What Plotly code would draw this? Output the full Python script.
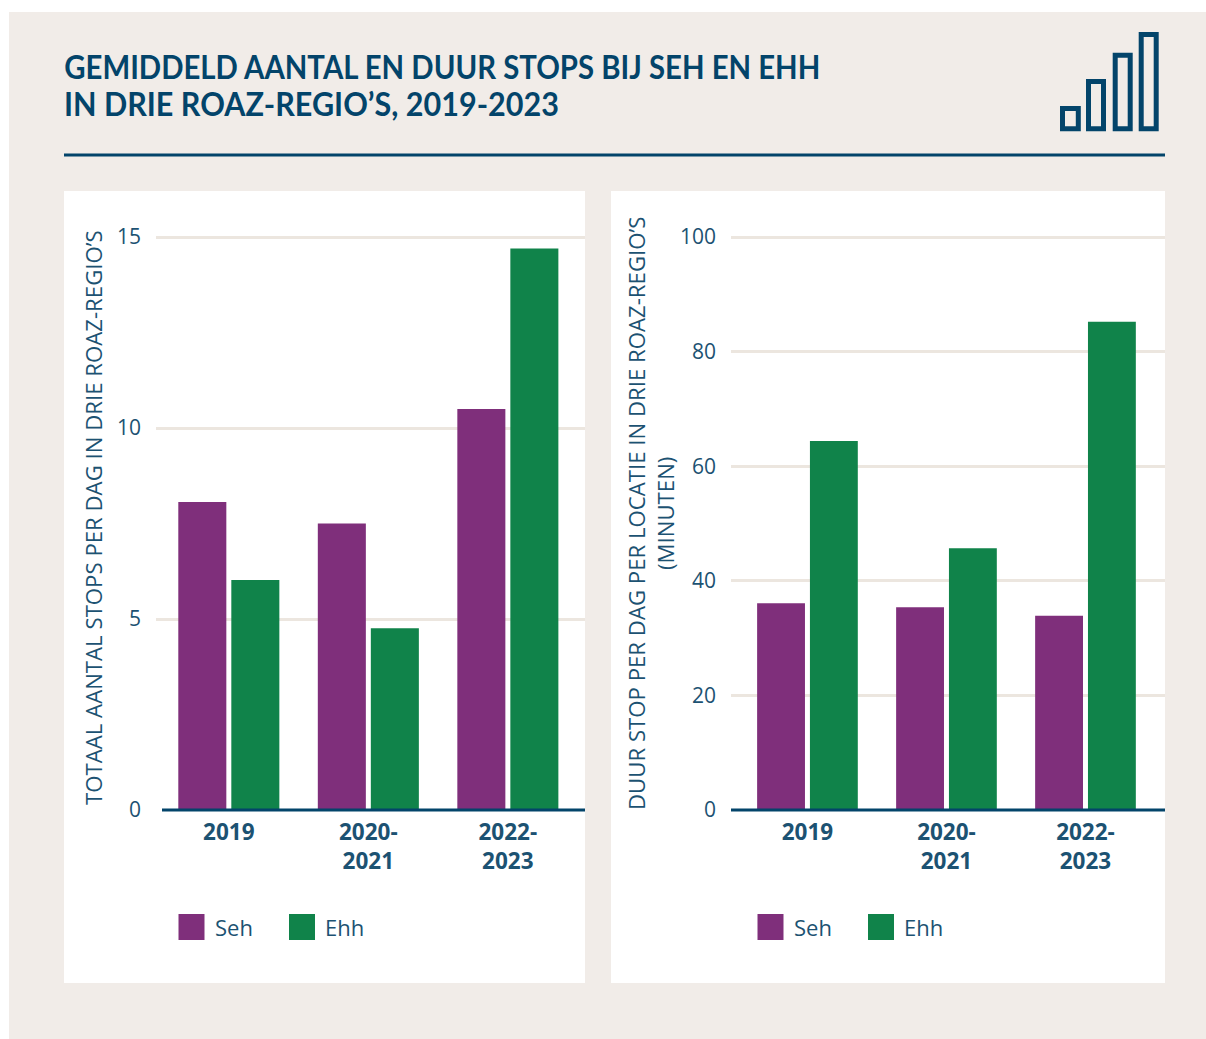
import plotly.graph_objects as go

W, H = 1206, 1039

periods = ["2019", "2020-<br>2021", "2022-<br>2023"]
stops_seh = [8.06, 7.5, 10.5]
stops_ehh = [6.02, 4.76, 14.7]
duur_seh = [36.1, 35.4, 33.9]
duur_ehh = [64.4, 45.7, 85.2]
stops_ticks = [0, 5, 10, 15]
duur_ticks = [0, 20, 40, 60, 80, 100]
title_lines = ["GEMIDDELD AANTAL EN DUUR STOPS BIJ SEH EN EHH", "IN DRIE ROAZ-REGIO’S, 2019-2023"]
title_widths = [756, 495]
ytitle_left = "TOTAAL AANTAL STOPS PER DAG IN DRIE ROAZ-REGIO’S"
ytitle_right = "DUUR STOP PER DAG PER LOCATIE IN DRIE ROAZ-REGIO’S<br>(MINUTEN)"

PURPLE = "#7f2f7b"
GREEN = "#10834a"
NAVY = "#03446a"
TEXT = "#1c5272"
BG = "#f1ece8"
GRID = "#ece6df"
BODY = "Open Sans"
HEAD = "Lato"


def px(x):
    return x / W


def py(y):
    return 1 - y / H


fig = go.Figure()
for xa, ya, seh, ehh in [("x", "y", stops_seh, stops_ehh), ("x2", "y2", duur_seh, duur_ehh)]:
    fig.add_bar(x=periods, y=seh, name="Seh", marker=dict(color=PURPLE, line_width=0), xaxis=xa, yaxis=ya, showlegend=False)
    fig.add_bar(x=periods, y=ehh, name="Ehh", marker=dict(color=GREEN, line_width=0), xaxis=xa, yaxis=ya, showlegend=False)

shapes = []


def rect(x0, y0, x1, y1, fill, line=None, lw=0, layer="below"):
    shapes.append(dict(type="rect", xref="paper", yref="paper", x0=px(x0), x1=px(x1), y0=py(y0), y1=py(y1),
                       fillcolor=fill, line=dict(color=line or fill, width=lw), layer=layer))


rect(9, 12, 1206, 1039, BG)
rect(64, 191, 585, 983, "#ffffff")
rect(611, 191, 1165, 983, "#ffffff")
rect(64, 153.5, 1165, 156.5, NAVY)

# icon
for x0, y0, x1 in [(1062.5, 108.5, 1078.3), (1088.5, 81.5, 1103.5), (1115.2, 55.2, 1130.2), (1141.2, 34.5, 1156.2)]:
    rect(x0, y0, x1, 128.8, "rgba(0,0,0,0)", NAVY, 5)

# baselines
for x0, x1 in [(162, 585), (731, 1165)]:
    rect(x0, 808.5, x1, 811.5, NAVY, layer="above")

# legends
annotations = []
for off in (0, 579):
    for x0, col, label, tx in [(178.5, PURPLE, "Seh", 213), (289, GREEN, "Ehh", 323)]:
        rect(x0 + off, 914, x0 + off + 26, 940, col)
        annotations.append(dict(text=label, xref="paper", yref="paper", x=px(tx + off), y=py(926.5), xanchor="left", yanchor="middle",
                                showarrow=False, font=dict(family=BODY, size=22, color=TEXT)))

for i, (line, tw) in enumerate(zip(title_lines, title_widths)):
    annotations.append(dict(text=line, xref="paper", yref="paper", x=px(64 + tw / 2), y=py(66 + 37 * i), xanchor="center", yanchor="middle",
                            showarrow=False, font=dict(family=HEAD, size=33, color=NAVY, weight="bold")))

annotations.append(dict(text=ytitle_left, xref="paper", yref="paper", x=px(93), y=py(518), textangle=-90, xanchor="center", yanchor="middle",
                        showarrow=False, font=dict(family=BODY, size=22.2, color=TEXT)))
annotations.append(dict(text=ytitle_right, xref="paper", yref="paper", x=px(651), y=py(514), textangle=-90, xanchor="center", yanchor="middle",
                        showarrow=False, font=dict(family=BODY, size=22.2, color=TEXT)))

xcommon = dict(type="category", showgrid=False, showline=False, zeroline=False, ticks="", automargin=False, ticklabelstandoff=6,
               tickfont=dict(family=BODY, size=22.5, color=TEXT, weight="bold"), tickangle=0)
ycommon = dict(showgrid=True, gridcolor=GRID, gridwidth=3, showline=False, zeroline=True, zerolinecolor="#ffffff", zerolinewidth=3,
               automargin=False, ticks="", tickfont=dict(family=BODY, size=21, color=TEXT), ticklabelstandoff=14)

top = 810 - 573 * 15.05 / 15

fig.update_layout(
    width=W, height=H, autosize=False,
    margin=dict(l=0, r=0, t=0, b=0),
    paper_bgcolor="#ffffff", plot_bgcolor="rgba(0,0,0,0)",
    barmode="group", bargap=0.24, bargroupgap=0.094,
    shapes=shapes, annotations=annotations,
    xaxis=dict(xcommon, domain=[px(156), px(585)], anchor="y", range=[-0.522, 2.553]),
    yaxis=dict(ycommon, domain=[py(810), py(top)], anchor="x", range=[0, 15.05], tickvals=stops_ticks),
    xaxis2=dict(xcommon, domain=[px(731), px(1165)], anchor="y2", range=[-0.55, 2.572]),
    yaxis2=dict(ycommon, domain=[py(810), py(top)], anchor="x2", range=[0, 100.333], tickvals=duur_ticks),
)

# The reference heading uses a condensed face; squeeze the real text to its measured width.
squeeze = """
document.body.style.margin='0';
setTimeout(function(){
  document.querySelectorAll('.annotation-text').forEach(function(t){
    var s=t.textContent, w=0;
    if(s.indexOf('GEMIDDELD')===0){w=%d;}
    if(s.indexOf('IN DRIE')===0){w=%d;}
    if(w){t.setAttribute('textLength',w);t.setAttribute('lengthAdjust','spacingAndGlyphs');}
  });
},50);
""" % tuple(title_widths)
fig.write_html("out.html", config=dict(displayModeBar=False), post_script=squeeze)
